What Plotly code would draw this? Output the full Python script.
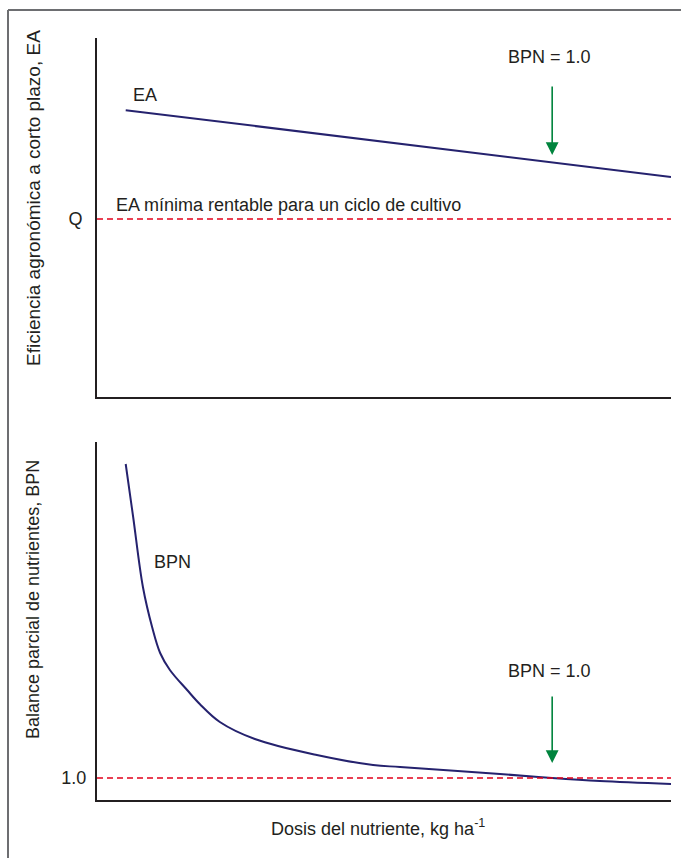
import plotly.graph_objects as go

# ---- data (abstract units) ----
ea_dose = [5.0, 100.0]
ea_value = [79.9, 61.3]
q_level = 49.6

bpn_dose = [5.0, 6.3, 8.0, 9.6, 11.0, 12.7, 15.7, 17.9, 21.4, 27.5, 38.3, 48.1, 52.8, 70.2, 79.3, 87.6, 100.0]
bpn_value = [7.28, 6.22, 4.82, 4.02, 3.50, 3.16, 2.76, 2.48, 2.12, 1.78, 1.46, 1.26, 1.22, 1.08, 1.00, 0.94, 0.88]
bpn_ref = 1.0
dose_bpn1 = 79.3

W, H = 681, 858
ML, MR, MT, MB = 97, 10, 38, 58
PW = W - ML - MR
PH = H - MT - MB

def px_x(p):
    return (p - ML) / PW

def px_y(p):
    return (H - MB - p) / PH

FONT = "Liberation Sans, Arial, sans-serif"
TXT = "#231f20"
NAVY = "#25226e"
RED = "#e2001a"
GREEN = "#00843d"
FS = 18

fig = go.Figure()
fig.add_trace(go.Scatter(x=ea_dose, y=ea_value, mode="lines",
                         line=dict(color=NAVY, width=2), xaxis="x2", yaxis="y2",
                         showlegend=False, hoverinfo="skip"))
fig.add_trace(go.Scatter(x=bpn_dose, y=bpn_value, mode="lines",
                         line=dict(color=NAVY, width=2, shape="spline", smoothing=1.0),
                         xaxis="x", yaxis="y", showlegend=False, hoverinfo="skip"))

axis_common = dict(showline=True, linecolor="#231f20", linewidth=2, showgrid=False,
                   zeroline=False, ticks="", fixedrange=True)

fig.update_layout(
    width=W, height=H,
    margin=dict(l=ML, r=MR, t=MT, b=MB),
    paper_bgcolor="white", plot_bgcolor="white",
    font=dict(family=FONT, size=FS, color=TXT),
    xaxis=dict(domain=[0, 1], range=[0, 100], showticklabels=False, anchor="y", **axis_common),
    yaxis=dict(domain=[0, px_y(442)], range=[0.56, 7.72], tickvals=[bpn_ref], ticktext=["1.0"],
               ticklabelstandoff=5, anchor="x", **axis_common),
    xaxis2=dict(domain=[0, 1], range=[0, 100], showticklabels=False, anchor="y2", **axis_common),
    yaxis2=dict(domain=[px_y(397), 1], range=[0, 100], tickvals=[q_level], ticktext=["Q"],
                ticklabelstandoff=9, anchor="x2", **axis_common),
)

# reference dashed lines
fig.add_shape(type="line", xref="x2", yref="y2", x0=0, x1=100, y0=q_level, y1=q_level,
              line=dict(color=RED, width=1.5, dash="6px,4px"))
fig.add_shape(type="line", xref="x", yref="y", x0=0, x1=100, y0=bpn_ref, y1=bpn_ref,
              line=dict(color=RED, width=1.5, dash="6px,4px"))

# frame (left and top)
fig.add_shape(type="line", xref="paper", yref="paper", x0=px_x(8), x1=px_x(8), y0=px_y(10), y1=px_y(H + 5),
              line=dict(color="#6d6e71", width=2))
fig.add_shape(type="line", xref="paper", yref="paper", x0=px_x(8), x1=px_x(W + 5), y0=px_y(10), y1=px_y(10),
              line=dict(color="#6d6e71", width=2))

ann = []
ann.append(dict(xref="x2", yref="y2", x=8.4, y=84.1, text="EA", showarrow=False))
ann.append(dict(xref="x2", yref="y2", x=2.96, y=53.5, text="EA mínima rentable para un ciclo de cultivo",
                showarrow=False, xanchor="left"))
ann.append(dict(xref="x2", yref="y2", x=78.9, y=94.7, text="BPN = 1.0", showarrow=False))
ann.append(dict(xref="x", yref="y", x=13.1, y=5.32, text="BPN", showarrow=False))
ann.append(dict(xref="x", yref="y", x=78.9, y=3.14, text="BPN = 1.0", showarrow=False))
# arrows
ann.append(dict(xref="x2", yref="y2", x=dose_bpn1, y=67.4, ax=0, ay=-70, text="", showarrow=True,
                arrowhead=2, arrowsize=1.6, arrowwidth=1.6, arrowcolor=GREEN))
ann.append(dict(xref="x", yref="y", x=dose_bpn1, y=1.30, ax=0, ay=-68, text="", showarrow=True,
                arrowhead=2, arrowsize=1.6, arrowwidth=1.6, arrowcolor=GREEN))
# axis titles
ann.append(dict(xref="paper", yref="paper", x=px_x(33), y=px_y(198), text="Eficiencia agronómica a corto plazo, EA",
                textangle=-90, showarrow=False, xanchor="center", yanchor="middle", font=dict(size=19)))
ann.append(dict(xref="paper", yref="paper", x=px_x(33), y=px_y(600), text="Balance parcial de nutrientes, BPN",
                textangle=-90, showarrow=False, xanchor="center", yanchor="middle"))
ann.append(dict(xref="paper", yref="paper", x=px_x(378), y=px_y(827), text="Dosis del nutriente, kg ha<sup>-1</sup>",
                showarrow=False, xanchor="center", yanchor="middle"))
fig.update_layout(annotations=ann)

fig.write_html("out.html", post_script="document.body.style.margin='0px';",
               config={"displayModeBar": False})
